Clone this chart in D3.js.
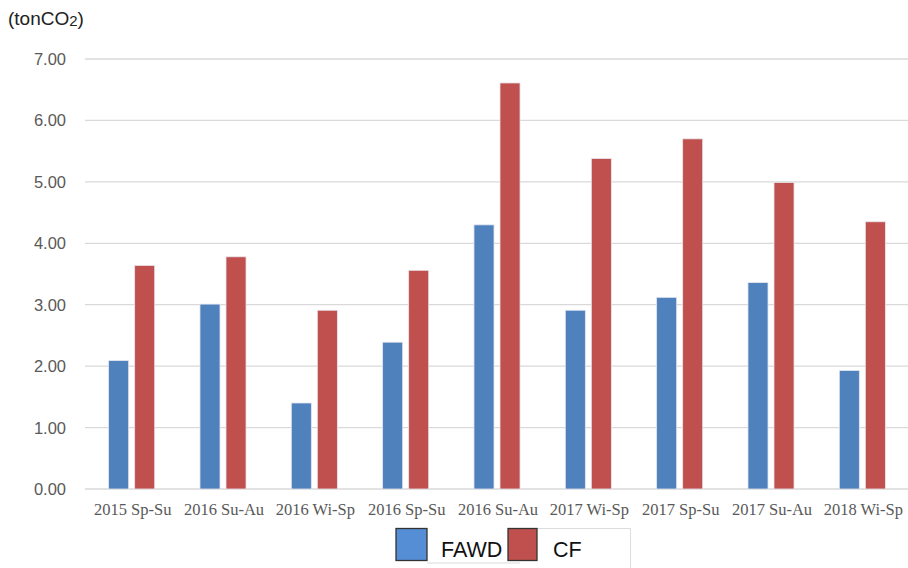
<!DOCTYPE html>
<html>
<head>
<meta charset="utf-8">
<script src="https://cdn.jsdelivr.net/npm/d3@7"></script>
<style>
  body { margin: 0; background: #fff; }
  svg { display: block; }
</style>
</head>
<body>
<svg id="chart" width="908" height="568"></svg>
<script>
const categories = ["2015 Sp-Su", "2016 Su-Au", "2016 Wi-Sp", "2016 Sp-Su", "2016 Su-Au",
                    "2017 Wi-Sp", "2017 Sp-Su", "2017 Su-Au", "2018 Wi-Sp"];
const seriesNames = ["FAWD", "CF"];
const fawdValues = [2.09, 3.01, 1.40, 2.39, 4.30, 2.91, 3.12, 3.36, 1.93];
const cfValues = [3.64, 3.78, 2.91, 3.56, 6.61, 5.38, 5.70, 4.99, 4.35];
const yTicks = [0, 1, 2, 3, 4, 5, 6, 7];

const colors = { FAWD: "#4f81bd", CF: "#c0504d" };

const svg = d3.select("#chart");
const plotLeft = 86, plotRight = 908, plotTop = 59, plotBottom = 489;

const x = d3.scaleBand()
    .domain(d3.range(categories.length))
    .range([plotLeft, plotRight]);

const inner = d3.scaleBand()
    .domain(seriesNames)
    .range([0, x.bandwidth()])
    .paddingInner(0.23)
    .paddingOuter(0.87);

const y = d3.scaleLinear().domain([0, 7]).range([plotBottom, plotTop]);

// gridlines
svg.append("g")
    .selectAll("line")
    .data(yTicks)
    .join("line")
    .attr("x1", plotLeft - 1)
    .attr("x2", plotRight)
    .attr("y1", d => y(d))
    .attr("y2", d => y(d))
    .attr("stroke", "#d9d9d9")
    .attr("stroke-width", 1.3);

// y labels
svg.append("g")
    .selectAll("text")
    .data(yTicks)
    .join("text")
    .attr("x", 66)
    .attr("y", d => y(d))
    .attr("dy", "0.36em")
    .attr("text-anchor", "end")
    .attr("font-family", "Liberation Sans, Arial, sans-serif")
    .attr("font-size", 16.5)
    .attr("fill", "#595959")
    .text(d => d.toFixed(2));

// bars
const rows = categories.map((c, i) => ({ i, values: [fawdValues[i], cfValues[i]] }));
const group = svg.append("g")
    .selectAll("g")
    .data(rows)
    .join("g")
    .attr("transform", d => `translate(${x(d.i)},0)`);

group.selectAll("rect")
    .data(d => d.values.map((v, k) => ({ name: seriesNames[k], v })))
    .join("rect")
    .attr("x", d => inner(d.name))
    .attr("width", inner.bandwidth())
    .attr("y", d => y(d.v))
    .attr("height", d => y(0) - y(d.v))
    .attr("fill", d => colors[d.name])
    .attr("stroke", "#e6e6ee")
    .attr("stroke-width", 0.8);

// category labels
svg.append("g")
    .selectAll("text")
    .data(categories)
    .join("text")
    .attr("x", (d, i) => x(i) + x.bandwidth() / 2 + 1)
    .attr("y", 515)
    .attr("text-anchor", "middle")
    .attr("font-family", "Liberation Serif, Times New Roman, serif")
    .attr("font-size", 16.5)
    .attr("fill", "#595959")
    .text(d => d);

// unit label
const unit = svg.append("text")
    .attr("x", 8)
    .attr("y", 25)
    .attr("font-family", "Liberation Sans, Arial, sans-serif")
    .attr("font-size", 19)
    .attr("fill", "#222");
unit.append("tspan").text("(tonCO");
unit.append("tspan").attr("font-size", 15).attr("dy", 1).text("2");
unit.append("tspan").attr("dy", -1).text(")");

// legend
const legendItems = [
  { name: "FAWD", sx: 396 },
  { name: "CF", sx: 508 }
];
const legend = svg.append("g");
legend.append("line")
    .attr("x1", 427).attr("x2", 520).attr("y1", 563).attr("y2", 563)
    .attr("stroke", "#dcdcdc");
legend.append("path")
    .attr("d", "M537,528.5H630.5V568")
    .attr("fill", "none")
    .attr("stroke", "#dcdcdc");
legend.selectAll("text")
    .data(legendItems)
    .join("text")
    .attr("x", d => d.sx + 45)
    .attr("y", 557)
    .attr("font-family", "Liberation Sans, Arial, sans-serif")
    .attr("font-size", 21.5)
    .attr("fill", "#111")
    .text(d => d.name);
legend.selectAll("rect.swatch")
    .data(legendItems)
    .join("rect")
    .attr("class", "swatch")
    .attr("x", d => d.sx)
    .attr("y", 528.5)
    .attr("width", d => d.name === "FAWD" ? 31 : 29)
    .attr("height", 32)
    .attr("fill", d => d.name === "FAWD" ? "#558ed5" : colors[d.name])
    .attr("stroke", "#333")
    .attr("stroke-width", 1.3);
</script>
</body>
</html>
